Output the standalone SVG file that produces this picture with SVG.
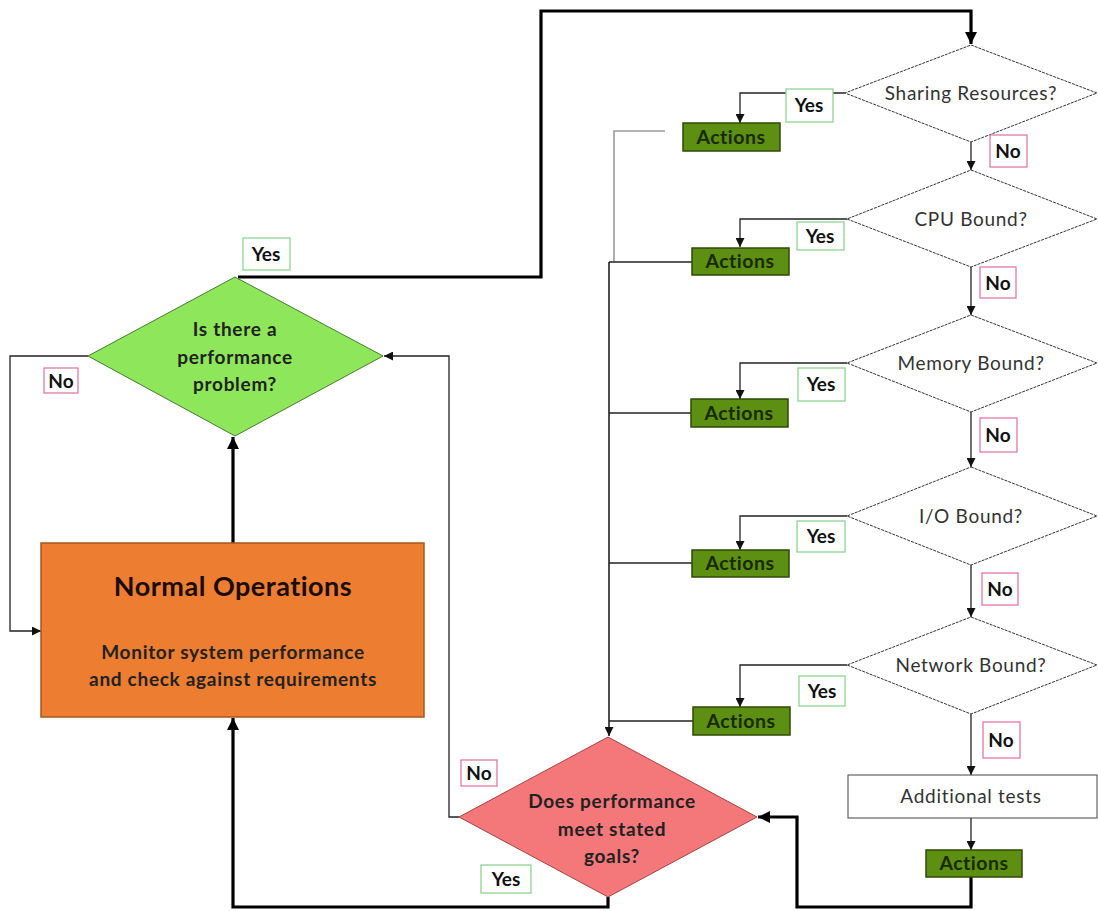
<svg xmlns="http://www.w3.org/2000/svg" width="1098" height="911" viewBox="0 0 1098 911">
  <defs>
    <marker id="arr" viewBox="0 0 10 10" refX="10" refY="5" markerWidth="9" markerHeight="9" markerUnits="userSpaceOnUse" orient="auto">
      <path d="M0,0 L10,5 L0,10 z" fill="#111"/>
    </marker>
    <marker id="arrBig" viewBox="0 0 10 10" refX="10" refY="5" markerWidth="12" markerHeight="12" markerUnits="userSpaceOnUse" orient="auto">
      <path d="M0,0 L10,5 L0,10 z" fill="#000"/>
    </marker>
    <style>
      .thin { fill: none; stroke: #222; stroke-width: 1.3; }
      .grey { fill: none; stroke: #9a9a9a; stroke-width: 1.6; }
      .bold { fill: none; stroke: #000; stroke-width: 3.2; }
      .q { fill: #fff; stroke: #333; stroke-width: 1; stroke-dasharray: 3 1; }
      .qt { font-family: Lato, "Liberation Sans", sans-serif; font-size: 19px; letter-spacing: 0.7px; fill: #333; text-anchor: middle; }
      .act rect { fill: #5c8f12; stroke: #2f4a08; stroke-width: 1.5; }
      .act text { font-family: Lato, "Liberation Sans", sans-serif; font-weight: bold; font-size: 19.5px; letter-spacing: 0.5px; fill: #1a2a05; text-anchor: middle; }
      .yes rect { fill: #fff; stroke: #8fd58f; stroke-width: 1.3; }
      .no rect { fill: #fff; stroke: #e07aa4; stroke-width: 1.3; }
      .lbl { font-family: Lato, "Liberation Sans", sans-serif; font-weight: bold; font-size: 19px; fill: #111; text-anchor: middle; }
      .bt { font-family: Lato, "Liberation Sans", sans-serif; font-weight: bold; font-size: 19px; letter-spacing: 0.7px; fill: #222; text-anchor: middle; }
    </style>
  </defs>

  <!-- connectors -->
  <g id="connectors">
    <!-- Yes: performance problem -> diagnosis chain -->
    <path class="bold" d="M238,277 H541 V11 H971 V44" marker-end="url(#arrBig)"/>
    <!-- Normal operations -> decision -->
    <path class="bold" d="M233,543 V437" marker-end="url(#arrBig)"/>
    <!-- No: back to normal operations -->
    <path class="thin" d="M88,356 H10 V631 H41" marker-end="url(#arr)"/>
    <!-- Goals met: Yes back to normal operations -->
    <path class="bold" d="M608,897 V907 H233 V718" marker-end="url(#arrBig)"/>
    <!-- Goals not met: No back to decision -->
    <path class="thin" d="M459,817 H449 V356 H384" marker-end="url(#arr)"/>
    <!-- Final actions -> goals check -->
    <path class="bold" d="M971,877 V907 H797 V817 H758" marker-end="url(#arrBig)"/>

    <!-- No chain -->
    <path class="thin" d="M971,142 V170" marker-end="url(#arr)"/>
    <path class="thin" d="M971,267 V315" marker-end="url(#arr)"/>
    <path class="thin" d="M971,412 V467" marker-end="url(#arr)"/>
    <path class="thin" d="M971,565 V617" marker-end="url(#arr)"/>
    <path class="thin" d="M971,714 V775" marker-end="url(#arr)"/>
    <path class="thin" d="M971,818 V850" marker-end="url(#arr)"/>

    <!-- Yes branches -->
    <path class="thin" d="M845,93 H740 V123" marker-end="url(#arr)"/>
    <path class="thin" d="M847,219 H740 V247" marker-end="url(#arr)"/>
    <path class="thin" d="M847,363 H740 V399" marker-end="url(#arr)"/>
    <path class="thin" d="M847,516 H740 V550" marker-end="url(#arr)"/>
    <path class="thin" d="M847,665 H740 V707" marker-end="url(#arr)"/>

    <!-- actions collect into the goals check -->
    <path class="grey" d="M665,131 H614 V262"/>
    <path class="thin" d="M692,262 H609"/>
    <path class="thin" d="M691,413 H609"/>
    <path class="thin" d="M692,563 H609"/>
    <path class="thin" d="M693,721 H609"/>
    <path class="thin" d="M609,262 V736" marker-end="url(#arr)" style="stroke-width:1.6"/>
  </g>

  <!-- main decision -->
  <g id="perf-problem">
    <polygon points="235,277 383,356 235,436 88,356" fill="#8ee65a" stroke="#4a7a30" stroke-width="1"/>
    <text class="bt" x="235" y="336">Is there a</text>
    <text class="bt" x="235" y="364">performance</text>
    <text class="bt" x="235" y="391">problem?</text>
  </g>

  <g id="normal-ops">
    <rect x="41" y="543" width="383" height="174" fill="#ed7d31" stroke="#a8561c" stroke-width="1.5"/>
    <text x="233" y="596" style="font-family: Lato, 'Liberation Sans', sans-serif; font-weight: bold; font-size: 27px; letter-spacing: 0.5px; fill: #1a0d04; text-anchor: middle;">Normal Operations</text>
    <text class="bt" x="233" y="659" fill="#1a0d04">Monitor system performance</text>
    <text class="bt" x="233" y="686" fill="#1a0d04">and check against requirements</text>
  </g>

  <g id="goals-met">
    <polygon points="608,737 757,817 608,897 459,817" fill="#f4777a" stroke="#a04545" stroke-width="1"/>
    <text class="bt" x="612" y="808" fill="#3a1010">Does performance</text>
    <text class="bt" x="612" y="836" fill="#3a1010">meet stated</text>
    <text class="bt" x="612" y="863" fill="#3a1010">goals?</text>
  </g>

  <!-- diagnosis chain -->
  <g id="sharing">
    <polygon class="q" points="971,45 1097,93 971,142 845,93"/>
    <text class="qt" x="971" y="100">Sharing Resources?</text>
  </g>
  <g id="cpu">
    <polygon class="q" points="971,170 1097,219 971,267 847,219"/>
    <text class="qt" x="971" y="226">CPU Bound?</text>
  </g>
  <g id="memory">
    <polygon class="q" points="971,315 1097,363 971,412 847,363"/>
    <text class="qt" x="971" y="370">Memory Bound?</text>
  </g>
  <g id="io">
    <polygon class="q" points="971,467 1097,516 971,565 847,516"/>
    <text class="qt" x="971" y="523">I/O Bound?</text>
  </g>
  <g id="network">
    <polygon class="q" points="971,617 1097,665 971,714 847,665"/>
    <text class="qt" x="971" y="672">Network Bound?</text>
  </g>
  <g id="additional-tests">
    <rect x="848" y="775" width="249" height="43" fill="#fff" stroke="#444" stroke-width="1"/>
    <text class="qt" x="971" y="803">Additional tests</text>
  </g>

  <!-- action boxes -->
  <g id="actions-sharing" class="act"><rect x="683" y="123" width="97" height="28"/><text x="731" y="144">Actions</text></g>
  <g id="actions-cpu" class="act"><rect x="692" y="248" width="97" height="27"/><text x="740" y="268">Actions</text></g>
  <g id="actions-memory" class="act"><rect x="691" y="399" width="97" height="28"/><text x="739" y="420">Actions</text></g>
  <g id="actions-io" class="act"><rect x="692" y="550" width="97" height="27"/><text x="740" y="570">Actions</text></g>
  <g id="actions-network" class="act"><rect x="693" y="707" width="97" height="28"/><text x="741" y="728">Actions</text></g>
  <g id="actions-final" class="act"><rect x="926" y="850" width="96" height="27"/><text x="974" y="870">Actions</text></g>

  <!-- branch labels -->
  <g id="labels">
    <g class="yes"><rect x="243" y="238" width="47" height="32"/><text class="lbl" x="266" y="261">Yes</text></g>
    <g class="no"><rect x="44" y="368" width="34" height="25"/><text class="lbl" x="61" y="388">No</text></g>
    <g class="no"><rect x="461" y="760" width="36" height="26"/><text class="lbl" x="479" y="780">No</text></g>
    <g class="yes"><rect x="481" y="865" width="50" height="28"/><text class="lbl" x="506" y="886">Yes</text></g>

    <g class="yes"><rect x="786" y="89" width="47" height="33"/><text class="lbl" x="809" y="112">Yes</text></g>
    <g class="yes"><rect x="797" y="222" width="47" height="28"/><text class="lbl" x="820" y="243">Yes</text></g>
    <g class="yes"><rect x="798" y="368" width="47" height="33"/><text class="lbl" x="821" y="391">Yes</text></g>
    <g class="yes"><rect x="797" y="521" width="48" height="31"/><text class="lbl" x="821" y="543">Yes</text></g>
    <g class="yes"><rect x="799" y="676" width="46" height="30"/><text class="lbl" x="822" y="698">Yes</text></g>

    <g class="no"><rect x="990" y="135" width="37" height="32"/><text class="lbl" x="1008" y="158">No</text></g>
    <g class="no"><rect x="980" y="267" width="36" height="31"/><text class="lbl" x="998" y="290">No</text></g>
    <g class="no"><rect x="980" y="418" width="37" height="34"/><text class="lbl" x="998" y="442">No</text></g>
    <g class="no"><rect x="982" y="573" width="36" height="32"/><text class="lbl" x="1000" y="596">No</text></g>
    <g class="no"><rect x="983" y="722" width="37" height="36"/><text class="lbl" x="1001" y="747">No</text></g>
  </g>
</svg>
